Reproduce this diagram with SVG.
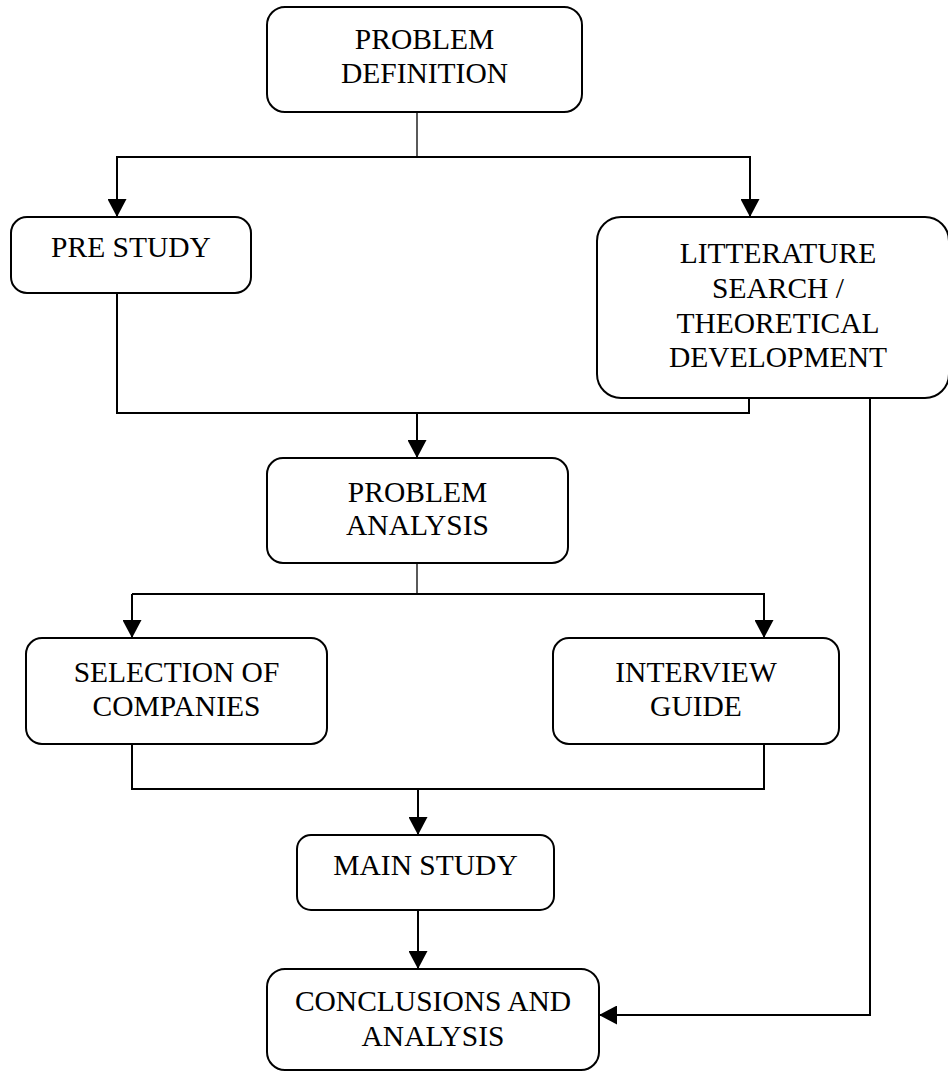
<svg xmlns="http://www.w3.org/2000/svg" width="948" height="1072" viewBox="0 0 948 1072">
<style>
.box{fill:#fff;stroke:#000;stroke-width:2}
.ln{fill:none;stroke:#000;stroke-width:2}
.thin{fill:none;stroke:#000;stroke-width:1.3}
text{font-family:"Liberation Serif","Times New Roman",serif;font-size:29.5px;fill:#000;text-anchor:middle}
</style>
<defs>
<marker id="ah" markerUnits="userSpaceOnUse" markerWidth="18" markerHeight="19" refX="18" refY="9.5" orient="auto">
<path d="M0,0 L18,9.5 L0,19 z" fill="#000"/>
</marker>
</defs>
<rect width="948" height="1072" fill="#fff"/>
<g id="connectors">
<path class="thin" d="M417,112 V157"/>
<path class="ln" d="M117,217 V157 H750 V217" marker-end="url(#ah)"/>
<path class="ln" d="M117,157 V217" marker-end="url(#ah)"/>
<path class="ln" d="M117,293 V413 H749 V397"/>
<path class="ln" d="M417,413 V458" marker-end="url(#ah)"/>
<path class="thin" d="M417,563 V594"/>
<path class="ln" d="M132,594 H764 V638" marker-end="url(#ah)"/>
<path class="ln" d="M132,594 V638" marker-end="url(#ah)"/>
<path class="ln" d="M132,744 V789 H764 V744"/>
<path class="ln" d="M418,789 V835" marker-end="url(#ah)"/>
<path class="ln" d="M418,910 V969" marker-end="url(#ah)"/>
<path class="ln" d="M870,397 V1015 H599" marker-end="url(#ah)"/>
</g>
<g id="problem-definition">
<rect class="box" x="267" y="7" width="315" height="105" rx="18"/>
<text x="424.5" y="49">PROBLEM</text>
<text x="424.5" y="83">DEFINITION</text>
</g>
<g id="pre-study">
<rect class="box" x="11" y="217" width="240" height="76" rx="16"/>
<text x="131" y="257">PRE STUDY</text>
</g>
<g id="literature-search">
<rect class="box" x="597" y="217" width="352" height="181" rx="24"/>
<text x="778" y="263">LITTERATURE</text>
<text x="778" y="298">SEARCH /</text>
<text x="778" y="333">THEORETICAL</text>
<text x="778" y="367">DEVELOPMENT</text>
</g>
<g id="problem-analysis">
<rect class="box" x="267" y="458" width="301" height="105" rx="16"/>
<text x="417.5" y="502">PROBLEM</text>
<text x="417.5" y="535">ANALYSIS</text>
</g>
<g id="selection-of-companies">
<rect class="box" x="26" y="638" width="301" height="106" rx="16"/>
<text x="176.5" y="682">SELECTION OF</text>
<text x="176.5" y="716">COMPANIES</text>
</g>
<g id="interview-guide">
<rect class="box" x="553" y="638" width="286" height="106" rx="16"/>
<text x="696" y="682">INTERVIEW</text>
<text x="696" y="716">GUIDE</text>
</g>
<g id="main-study">
<rect class="box" x="297" y="835" width="257" height="75" rx="14"/>
<text x="425.5" y="875">MAIN STUDY</text>
</g>
<g id="conclusions">
<rect class="box" x="267" y="969" width="332" height="101" rx="18"/>
<text x="433" y="1011">CONCLUSIONS AND</text>
<text x="433" y="1046">ANALYSIS</text>
</g>
</svg>
